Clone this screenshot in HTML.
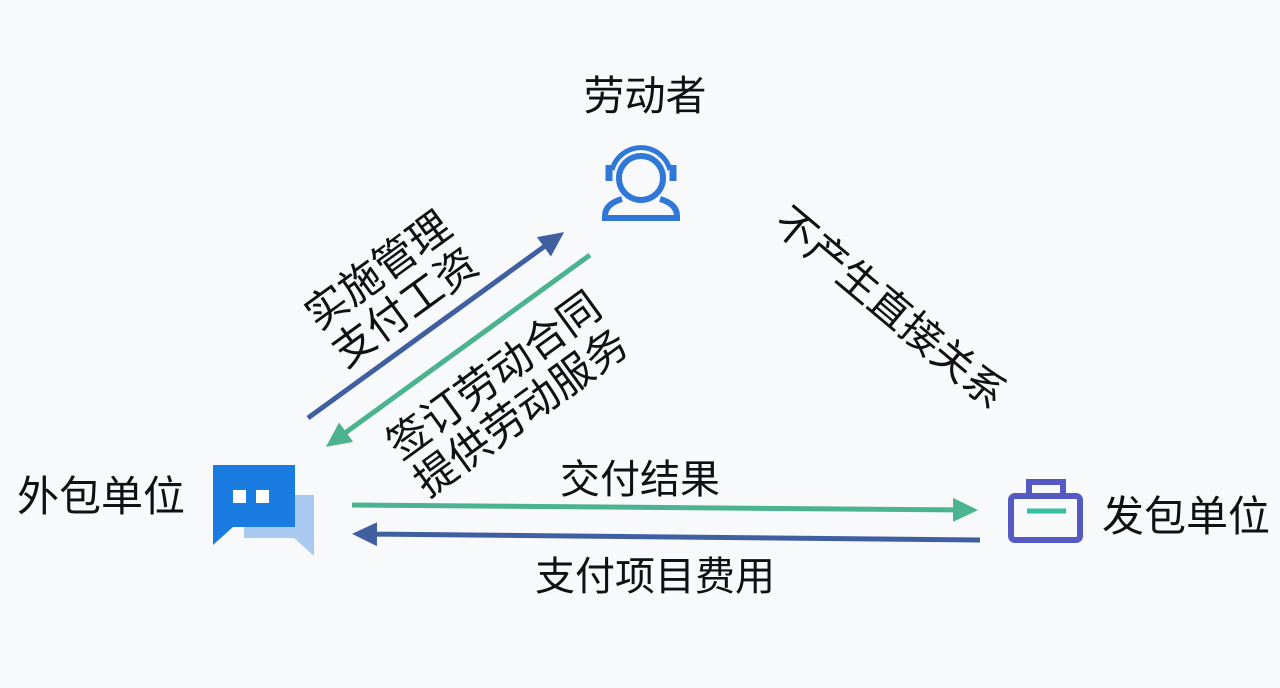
<!DOCTYPE html>
<html><head><meta charset="utf-8"><style>
html,body{margin:0;padding:0;background:#f8f9fb;}
svg{display:block}
text{font-family:"Liberation Sans","Noto Sans CJK SC",sans-serif;fill:#111;}
</style></head><body>
<svg width="1280" height="688" viewBox="0 0 1280 688">
<rect width="1280" height="688" fill="#f8f9fb"/>
<defs>
<marker id="ab" markerWidth="6" markerHeight="6" refX="3" refY="3" orient="auto" markerUnits="strokeWidth"><path d="M0,0.6 L5,3 L0,5.4 Z" fill="#3f5fa0"/></marker>
<marker id="ag" markerWidth="6" markerHeight="6" refX="3" refY="3" orient="auto" markerUnits="strokeWidth"><path d="M0,0.6 L5,3 L0,5.4 Z" fill="#4cb38f"/></marker>
</defs>
<line x1="308" y1="418" x2="556" y2="238" stroke="#3f5fa0" stroke-width="5" marker-end="url(#ab)"/>
<line x1="590" y1="255" x2="334" y2="441" stroke="#4cb38f" stroke-width="5" marker-end="url(#ag)"/>
<line x1="352" y1="505" x2="968" y2="510" stroke="#4cb38f" stroke-width="5" marker-end="url(#ag)"/>
<line x1="980" y1="540" x2="362" y2="534" stroke="#3f5fa0" stroke-width="5" marker-end="url(#ab)"/>
<text x="645" y="110" font-size="41" text-anchor="middle">劳动者</text>
<text x="101" y="511" font-size="42" text-anchor="middle">外包单位</text>
<text x="1186" y="531" font-size="42" text-anchor="middle">发包单位</text>
<text x="640" y="493" font-size="40" text-anchor="middle">交付结果</text>
<text x="655" y="590" font-size="40" text-anchor="middle">支付项目费用</text>
<g transform="translate(390,287) rotate(-36)">
<text x="0" y="-6" font-size="42" text-anchor="middle">实施管理</text>
<text x="0" y="40" font-size="42" text-anchor="middle">支付工资</text>
</g>
<g transform="translate(506,392) rotate(-36)">
<text x="0" y="-6" font-size="42" text-anchor="middle">签订劳动合同</text>
<text x="0" y="40" font-size="42" text-anchor="middle">提供劳动服务</text>
</g>
<g transform="translate(890,308) rotate(40)">
<text x="0" y="14" font-size="41" text-anchor="middle">不产生直接关系</text>
</g>
<g fill="none" stroke="#2f78d8" stroke-width="6">
<circle cx="641" cy="178" r="22"/>
<path d="M612,170 A30,30 0 0 1 670,170" stroke-width="5"/>
<path d="M609,165 v16" stroke-width="7"/>
<path d="M673,165 v16" stroke-width="7"/>
<path d="M622,199 Q605,204 605,216 L605,218 L677,218 L677,216 Q677,204 660,199"/>
</g>
<path d="M244,495 H314 V556 L294,538 H244 Z" fill="#a9c9ef"/>
<path d="M213,465 H295 V527 H233 L213,545 Z" fill="#1a7be0"/>
<rect x="233" y="490" width="13" height="13" fill="#fff"/>
<rect x="256" y="490" width="13" height="13" fill="#fff"/>
<g fill="none" stroke="#5559c2" stroke-width="6">
<path d="M1029,494 V482 H1063 V494"/>
<rect x="1011" y="496" width="69" height="44" rx="4"/>
</g>
<line x1="1027" y1="511" x2="1066" y2="511" stroke="#35c0a0" stroke-width="5"/>
</svg>
</body></html>
